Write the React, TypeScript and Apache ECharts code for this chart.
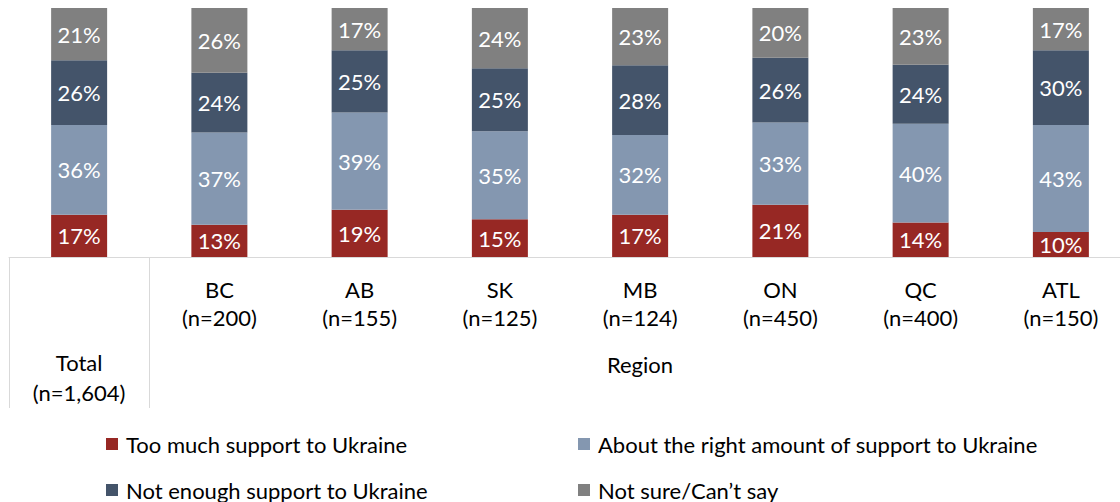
import React, { useEffect, useRef } from "react";
import * as echarts from "echarts";

const categories = ["Total", "BC", "AB", "SK", "MB", "ON", "QC", "ATL"];
const sampleSizes = ["1,604", "200", "155", "125", "124", "450", "400", "150"];
const groupLabel = "Region";

const seriesNames = [
  "Too much support to Ukraine",
  "About the right amount of support to Ukraine",
  "Not enough support to Ukraine",
  "Not sure/Can\u2019t say",
];
const tooMuch = [17, 13, 19, 15, 17, 21, 14, 10];
const aboutRight = [36, 37, 39, 35, 32, 33, 40, 43];
const notEnough = [26, 24, 25, 25, 28, 26, 24, 30];
const notSure = [21, 26, 17, 24, 23, 20, 23, 17];
const colors = ["#972824", "#8497B0", "#44546A", "#808080"];

const FONT = "Lato";
const FS = 22;

export default function App() {
  const ref = useRef<HTMLDivElement>(null);

  useEffect(() => {
    if (!ref.current) return;
    const chart = echarts.init(ref.current, null, { renderer: "svg" });
    const all = [tooMuch, aboutRight, notEnough, notSure];
    const sums = categories.map((_, i) => all.reduce((s, a) => s + a[i], 0));

    const series = all.map((arr, si) => ({
      name: seriesNames[si],
      type: "bar",
      stack: "total",
      barWidth: 56,
      itemStyle: { color: colors[si] },
      label: {
        show: true,
        position: "inside",
        color: "#ffffff",
        fontFamily: FONT,
        fontSize: FS,
        formatter: (p: any) => p.data.raw + "%",
      },
      data: arr.map((v, i) => ({ value: (v / sums[i]) * 100, raw: v })),
    }));

    const legendPos = [
      { left: 106, top: 432 },
      { left: 578, top: 432 },
      { left: 106, top: 478 },
      { left: 578, top: 478 },
    ];
    const legends = seriesNames.map((name, i) => ({
      data: [name],
      left: legendPos[i].left,
      top: legendPos[i].top,
      padding: 0,
      icon: "rect",
      itemWidth: 12,
      itemHeight: 12,
      textStyle: {
        fontFamily: FONT,
        fontSize: FS,
        color: "#000",
        lineHeight: 24,
        padding: [0, 0, 0, 3],
      },
    }));

    chart.setOption({
      animation: false,
      grid: { left: 9, top: 8, right: 0, height: 249 },
      xAxis: {
        type: "category",
        data: categories,
        boundaryGap: true,
        axisLine: { show: true, lineStyle: { color: "#D9D9D9", width: 1 } },
        axisTick: {
          show: true,
          interval: (i: number) => i <= 1,
          length: 151,
          lineStyle: { color: "#D9D9D9", width: 1 },
        },
        axisLabel: {
          interval: 0,
          margin: 18,
          formatter: (value: string, index: number) =>
            index === 0
              ? `{gap|}\n{b|${value}}\n{b|(n=${sampleSizes[index]})}`
              : `{a|${value}}\n{a|(n=${sampleSizes[index]})}`,
          rich: {
            gap: { lineHeight: 72, fontSize: 1 },
            a: { fontFamily: FONT, fontSize: FS, lineHeight: 28, color: "#000" },
            b: { fontFamily: FONT, fontSize: FS, lineHeight: 30, color: "#000" },
          },
        },
      },
      yAxis: { type: "value", min: 0, max: 100, show: false, splitLine: { show: false } },
      legend: legends,
      graphic: [
        {
          type: "text",
          x: 640,
          y: 364,
          style: {
            text: groupLabel,
            fontFamily: FONT,
            fontSize: FS,
            fill: "#000",
            textAlign: "center",
            textVerticalAlign: "middle",
          },
        },
      ],
      series,
    });
    return () => chart.dispose();
  }, []);

  return (
    <div
      style={{
        position: "absolute",
        left: 0,
        top: 0,
        width: 1120,
        height: 502,
        overflow: "hidden",
      }}
    >
      <div ref={ref} style={{ width: 1131, height: 502 }} />
    </div>
  );
}
